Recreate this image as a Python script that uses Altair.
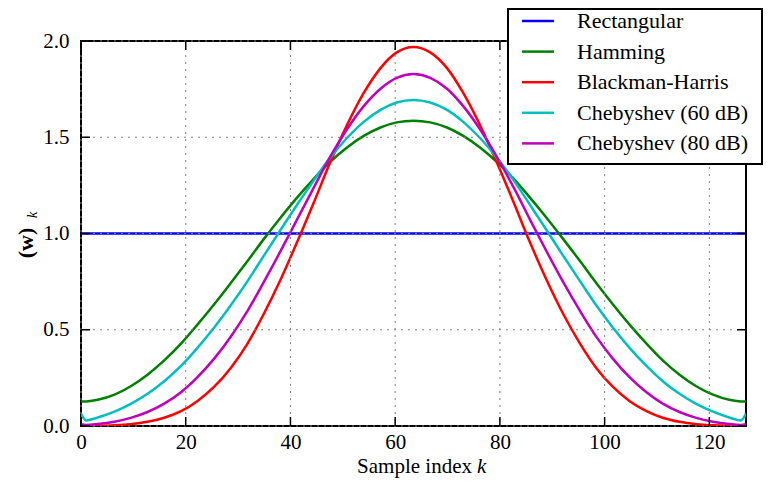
import altair as alt
import pandas as pd

# ---- data -----------------------------------------------------------------
names = ["Rectangular", "Hamming", "Blackman-Harris", "Chebyshev (60 dB)", "Chebyshev (80 dB)"]
colors = ["#0000ff", "#008000", "#ff0000", "#00bfbf", "#bf00bf"]

x_ticks = [0, 20, 40, 60, 80, 100, 120]
y_ticks = [0.0, 0.5, 1.0, 1.5, 2.0]

rect_k = [0, 127]
rect_w = [1.0, 1.0]

k = [0, 1, 3.2, 6.4, 9.5, 12.7, 15.9, 19.1, 22.2, 25.4, 28.6, 31.8, 34.9, 38.1, 41.3,
     44.5, 47.6, 50.8, 54.0, 57.2, 60.3, 63.5, 66.7, 69.9, 73.0, 76.2, 79.4, 82.6,
     85.7, 88.9, 92.1, 95.3, 98.4, 101.6, 104.8, 108.0, 111.1, 114.3, 117.5, 120.7,
     123.8, 126, 127]

hamming = [0.1269, 0.1278, 0.1359, 0.1626, 0.2064, 0.2663, 0.3406, 0.4277, 0.5253,
           0.6311, 0.7425, 0.8566, 0.9708, 1.0821, 1.1879, 1.2855, 1.3726, 1.4470,
           1.5068, 1.5506, 1.5773, 1.5863, 1.5773, 1.5506, 1.5068, 1.4470, 1.3726,
           1.2855, 1.1879, 1.0821, 0.9708, 0.8566, 0.7425, 0.6311, 0.5253, 0.4277,
           0.3406, 0.2663, 0.2064, 0.1626, 0.1359, 0.1278, 0.1269]

blackman_harris = [0.0001, 0.0002, 0.0008, 0.0035, 0.0096, 0.0216, 0.0428, 0.0772,
                   0.1291, 0.2028, 0.3018, 0.4282, 0.5817, 0.7598, 0.9566, 1.1636,
                   1.3699, 1.5630, 1.7300, 1.8592, 1.9409, 1.9689, 1.9409, 1.8592,
                   1.7300, 1.5630, 1.3699, 1.1636, 0.9566, 0.7598, 0.5817, 0.4282,
                   0.3018, 0.2028, 0.1291, 0.0772, 0.0428, 0.0216, 0.0096, 0.0035,
                   0.0008, 0.0002, 0.0001]

cheb60 = [0.065, 0.0292, 0.0443, 0.0742, 0.1148, 0.1674, 0.2328, 0.3120, 0.4047,
          0.5101, 0.6268, 0.7525, 0.8841, 1.0183, 1.1506, 1.2774, 1.3942, 1.4960,
          1.5800, 1.6423, 1.6808, 1.6940, 1.6808, 1.6423, 1.5800, 1.4960, 1.3942,
          1.2774, 1.1506, 1.0183, 0.8841, 0.7525, 0.6268, 0.5101, 0.4047, 0.3120,
          0.2328, 0.1674, 0.1148, 0.0742, 0.0443, 0.0292, 0.065]

cheb80 = [0.009, 0.0054, 0.0103, 0.0224, 0.0423, 0.0727, 0.1162, 0.1755, 0.2526,
          0.3488, 0.4641, 0.5978, 0.7471, 0.9080, 1.0747, 1.2408, 1.3991, 1.5417,
          1.6617, 1.7523, 1.8088, 1.8280, 1.8088, 1.7523, 1.6617, 1.5417, 1.3991,
          1.2408, 1.0747, 0.9080, 0.7471, 0.5978, 0.4641, 0.3488, 0.2526, 0.1755,
          0.1162, 0.0727, 0.0423, 0.0224, 0.0103, 0.0054, 0.009]

# ---- long table ------------------------------------------------------------
rows = []
for kk, v in zip(rect_k, rect_w):
    rows.append(("Rectangular", kk, v))
for name, vals in zip(names[1:], [hamming, blackman_harris, cheb60, cheb80]):
    for kk, v in zip(k, vals):
        rows.append((name, kk, v))
df = pd.DataFrame(rows, columns=["series", "k", "w"])

W, H = 665, 385
FONT = "'Liberation Serif', 'DejaVu Serif', serif"
FS = 21      # tick labels
FT = 22      # legend / y title

xs = alt.Scale(domain=[0, 127], nice=False, zero=False)
ys = alt.Scale(domain=[0, 2], nice=False, zero=False)

common_axis = dict(labelFont=FONT, labelFontSize=FS, labelColor="black", ticks=False,
                   domain=False, grid=False, title=None, labelFlush=False)
x_axis = alt.Axis(values=x_ticks, format="d", labelPadding=5, **common_axis)
y_axis = alt.Axis(values=y_ticks, format=".1f", labelPadding=12, **common_axis)

lines = alt.Chart(df).mark_line(strokeWidth=2.5, interpolate="monotone", clip=True).encode(
    x=alt.X("k:Q", scale=xs, axis=x_axis),
    y=alt.Y("w:Q", scale=ys, axis=y_axis),
    color=alt.Color("series:N", sort=names,
                    scale=alt.Scale(domain=names, range=colors), legend=None),
)

xt = pd.DataFrame({"t": x_ticks})
yt = pd.DataFrame({"t": y_ticks})

# dotted grid drawn over the curves (as in the reference)
grid_v = alt.Chart(xt).mark_rule(color="#808080", strokeWidth=1, strokeDash=[2, 5]).encode(
    x=alt.X("t:Q", scale=xs, axis=x_axis))
grid_h = alt.Chart(yt).mark_rule(color="#808080", strokeWidth=1, strokeDash=[2, 5]).encode(
    y=alt.Y("t:Q", scale=ys, axis=y_axis))

TL = 9
tick_bottom = alt.Chart(xt).mark_rule(color="black", strokeWidth=1.5).encode(
    x=alt.X("t:Q", scale=xs, axis=x_axis), y=alt.value(H), y2=alt.value(H - TL))
tick_top = alt.Chart(xt).mark_rule(color="black", strokeWidth=1.5).encode(
    x=alt.X("t:Q", scale=xs, axis=x_axis), y=alt.value(0), y2=alt.value(TL))
tick_left = alt.Chart(yt).mark_rule(color="black", strokeWidth=1.5).encode(
    y=alt.Y("t:Q", scale=ys, axis=y_axis), x=alt.value(0), x2=alt.value(TL))
tick_right = alt.Chart(yt).mark_rule(color="black", strokeWidth=1.5).encode(
    y=alt.Y("t:Q", scale=ys, axis=y_axis), x=alt.value(W), x2=alt.value(W - TL))


def label(text, x, y, **kw):
    return alt.Chart(pd.DataFrame({"t": [text]})).mark_text(font=FONT, color="black", **kw).encode(
        text="t:N", x=alt.value(x), y=alt.value(y))


xlab1 = label("Sample index", 391, 432, fontSize=21, align="right", baseline="alphabetic")
xlab2 = label("k", 396, 432, fontSize=21, fontStyle="italic", align="left", baseline="alphabetic")
ylab1 = label("(w)", -55, 202, fontSize=FT, fontWeight="bold", angle=270, align="center", baseline="middle")
ylab2 = label("k", -49, 174, fontSize=15, fontStyle="italic", angle=270, align="center", baseline="middle")

# ---- legend box (upper right, overlapping the frame) -----------------------
legend_box = alt.Chart(pd.DataFrame({"b": [0]})).mark_rect(
    fill="white", stroke="black", strokeWidth=2).encode(
    x=alt.value(427), x2=alt.value(681), y=alt.value(-32), y2=alt.value(123))

legend_layers = [legend_box]
row0, row_step = -20, 30.6
for i, (name, col) in enumerate(zip(names, colors)):
    yy = row0 + i * row_step
    legend_layers.append(
        alt.Chart(pd.DataFrame({"n": [name]})).mark_rule(color=col, strokeWidth=2.5).encode(
            x=alt.value(441), x2=alt.value(473), y=alt.value(yy)))
    legend_layers.append(label(name, 496, yy, fontSize=FT, align="left", baseline="middle"))

chart = alt.layer(
    lines, grid_v, grid_h, tick_bottom, tick_top, tick_left, tick_right,
    xlab1, xlab2, ylab1, ylab2, *legend_layers
).properties(
    width=W, height=H,
    padding={"left": 73, "top": 33, "right": 18, "bottom": 53},
    autosize=alt.AutoSizeParams(type="none"),
).configure_view(stroke="black", strokeWidth=2)

chart.save("out.html", embed_options={"renderer": "svg", "actions": False})
